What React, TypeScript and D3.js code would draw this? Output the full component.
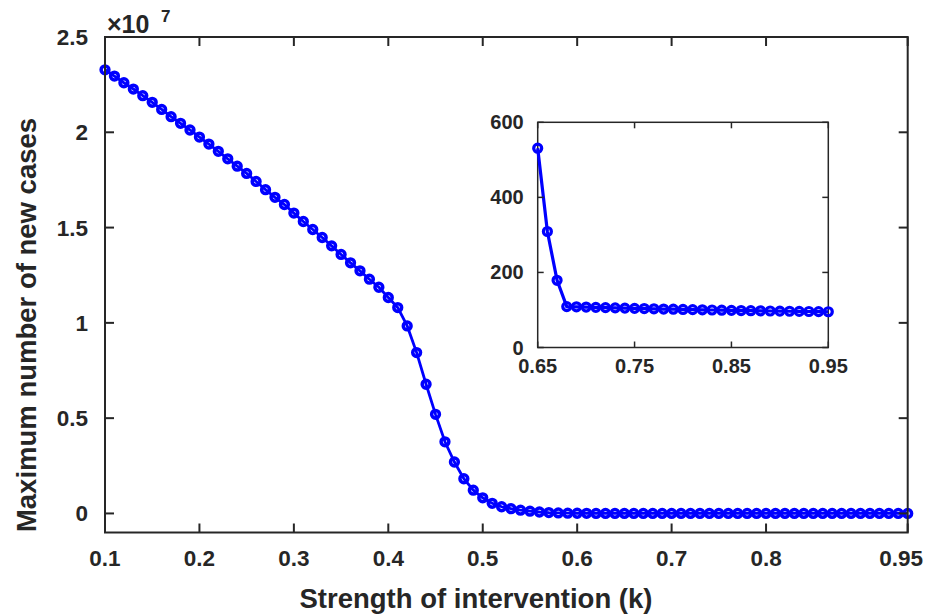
import React from "react";
import * as d3 from "d3";

// k grid (strength of intervention)
const kValues: number[] = d3.range(10, 96).map((d) => d / 100);

// Maximum number of new cases (×1e7), k = 0.10 … 0.64
const mainHead: number[] = [
  2.328, 2.295, 2.26, 2.227, 2.192, 2.157, 2.12, 2.082, 2.047, 2.012,
  1.975, 1.938, 1.9, 1.861, 1.822, 1.784, 1.742, 1.699, 1.659, 1.621,
  1.576, 1.532, 1.49, 1.448, 1.404, 1.359, 1.315, 1.273, 1.229, 1.187,
  1.133, 1.08, 0.984, 0.844, 0.678, 0.52, 0.376, 0.27, 0.182, 0.122,
  0.082, 0.053, 0.035, 0.025, 0.017, 0.012, 0.0075, 0.0045, 0.0027, 0.0016,
  0.0009, 0.0005, 0.00028, 0.00015, 0.000085,
];

// Inset: maximum number of new cases, k = 0.65 … 0.95
const insetK: number[] = d3.range(65, 96).map((d) => d / 100);
const insetValues: number[] = [
  531, 309, 179, 109, 108.5, 107.8, 107, 106.3, 105.6, 105, 104.3, 103.7,
  103.1, 102.5, 102, 101.4, 100.9, 100.4, 99.9, 99.4, 99, 98.5, 98.1, 97.7,
  97.3, 96.9, 96.6, 96.2, 95.9, 95.6, 95.3,
];

const mainValues: number[] = [...mainHead, ...insetValues.map((v) => v / 1e7)];

const mainXTicks: number[] = [0.1, 0.2, 0.3, 0.4, 0.5, 0.6, 0.7, 0.8, 0.95];
const mainYTicks: number[] = [0, 0.5, 1, 1.5, 2, 2.5];
const insetXTicks: number[] = [0.65, 0.75, 0.85, 0.95];
const insetYTicks: number[] = [0, 200, 400, 600];

const W = 927;
const H = 616;
const AX = "#262626";
const BLUE = "#0000ff";
const FONT = "Liberation Sans, Arial, Helvetica, sans-serif";

export default function App() {
  const m = { l: 105, r: 907.7, t: 37, b: 532.5 };
  const x = d3.scaleLinear().domain([0.1, 0.95]).range([m.l, m.r]);
  const y = d3.scaleLinear().domain([-0.1, 2.5]).range([m.b, m.t]);

  const ins = { l: 537.7, r: 828.3, t: 122.3, b: 347.5 };
  const xi = d3.scaleLinear().domain([0.65, 0.95]).range([ins.l, ins.r]);
  const yi = d3.scaleLinear().domain([0, 600]).range([ins.b, ins.t]);

  const mainPts = kValues.map((k, i) => [k, mainValues[i]] as [number, number]);
  const insetPts = insetK.map((k, i) => [k, insetValues[i]] as [number, number]);

  const mainLine = d3
    .line<[number, number]>()
    .x((d) => x(d[0]))
    .y((d) => y(d[1]))(mainPts) as string;
  const insetLine = d3
    .line<[number, number]>()
    .x((d) => xi(d[0]))
    .y((d) => yi(d[1]))(insetPts) as string;

  const tl = 9;
  const tli = 6;
  const lastX = mainXTicks[mainXTicks.length - 1];

  return (
    <svg
      width={W}
      height={H}
      style={{ position: "absolute", left: 0, top: 0, background: "#fff" }}
      fontFamily={FONT}
      fontWeight="bold"
    >
      <rect x={0} y={0} width={W} height={H} fill="#fff" />

      {/* main data */}
      <path d={mainLine} fill="none" stroke={BLUE} strokeWidth={2.8} />
      {mainPts.map((d, i) => (
        <circle
          key={i}
          cx={x(d[0])}
          cy={y(d[1])}
          r={3.9}
          fill="none"
          stroke={BLUE}
          strokeWidth={3.5}
        />
      ))}

      {/* main axes box */}
      <rect
        x={m.l}
        y={m.t}
        width={m.r - m.l}
        height={m.b - m.t}
        fill="none"
        stroke={AX}
        strokeWidth={2}
      />
      {mainXTicks.map((t) => (
        <g key={"mx" + t}>
          <line x1={x(t)} x2={x(t)} y1={m.b} y2={m.b - tl} stroke={AX} strokeWidth={2} />
          <line x1={x(t)} x2={x(t)} y1={m.t} y2={m.t + tl} stroke={AX} strokeWidth={2} />
          <text
            x={t === lastX ? W - 4 : x(t)}
            y={m.b + 33}
            textAnchor={t === lastX ? "end" : "middle"}
            fontSize={22.5}
            fill={AX}
          >
            {String(t)}
          </text>
        </g>
      ))}
      {mainYTicks.map((t) => (
        <g key={"my" + t}>
          <line x1={m.l} x2={m.l + tl} y1={y(t)} y2={y(t)} stroke={AX} strokeWidth={2} />
          <line x1={m.r} x2={m.r - tl} y1={y(t)} y2={y(t)} stroke={AX} strokeWidth={2} />
          <text x={m.l - 17} y={y(t) + 8} textAnchor="end" fontSize={22.5} fill={AX}>
            {String(t)}
          </text>
        </g>
      ))}
      <text x={107} y={33} fontSize={25} fill={AX}>
        ×10
      </text>
      <text x={161} y={22} fontSize={17} fill={AX}>
        7
      </text>
      <text x={476} y={608} textAnchor="middle" fontSize={27.5} fill={AX}>
        Strength of intervention (k)
      </text>
      <text
        transform={`translate(36,325) rotate(-90)`}
        textAnchor="middle"
        fontSize={27.5}
        fill={AX}
      >
        Maximum number of new cases
      </text>

      {/* inset */}
      <rect
        x={ins.l}
        y={ins.t}
        width={ins.r - ins.l}
        height={ins.b - ins.t}
        fill="#fff"
        stroke={AX}
        strokeWidth={1.5}
      />
      <path d={insetLine} fill="none" stroke={BLUE} strokeWidth={3.2} />
      {insetPts.map((d, i) => (
        <circle
          key={i}
          cx={xi(d[0])}
          cy={yi(d[1])}
          r={4}
          fill="none"
          stroke={BLUE}
          strokeWidth={3.2}
        />
      ))}
      {insetXTicks.map((t) => (
        <g key={"ix" + t}>
          <line x1={xi(t)} x2={xi(t)} y1={ins.b} y2={ins.b - tli} stroke={AX} strokeWidth={1.5} />
          <line x1={xi(t)} x2={xi(t)} y1={ins.t} y2={ins.t + tli} stroke={AX} strokeWidth={1.5} />
          <text x={xi(t)} y={ins.b + 25} textAnchor="middle" fontSize={20} fill={AX}>
            {String(t)}
          </text>
        </g>
      ))}
      {insetYTicks.map((t) => (
        <g key={"iy" + t}>
          <line x1={ins.l} x2={ins.l + tli} y1={yi(t)} y2={yi(t)} stroke={AX} strokeWidth={1.5} />
          <line x1={ins.r} x2={ins.r - tli} y1={yi(t)} y2={yi(t)} stroke={AX} strokeWidth={1.5} />
          <text x={ins.l - 14} y={yi(t) + 7} textAnchor="end" fontSize={20} fill={AX}>
            {String(t)}
          </text>
        </g>
      ))}
    </svg>
  );
}
